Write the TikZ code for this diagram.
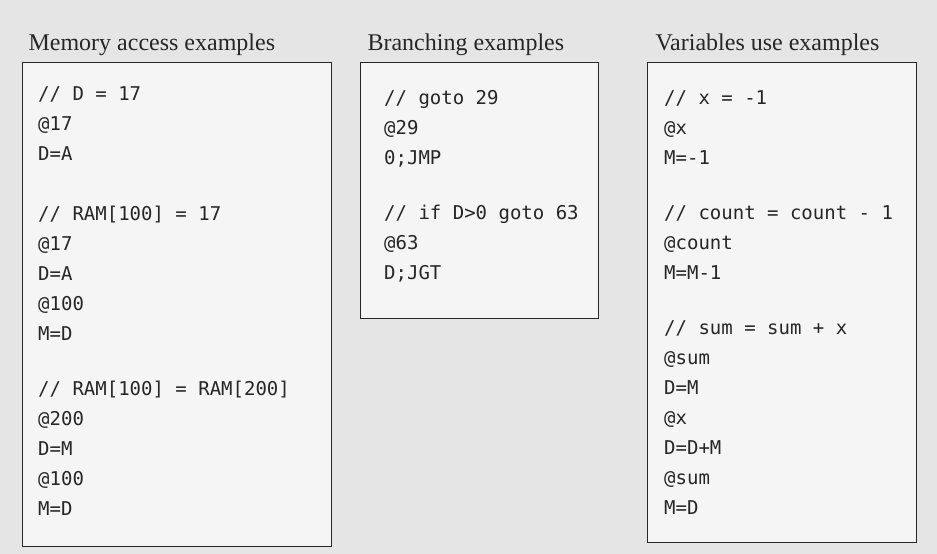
\documentclass[tikz,border=0pt]{standalone}
\usepackage{fontspec}
\setmainfont{Liberation Serif}
\setmonofont{DejaVu Sans Mono}
\begin{document}
\begin{tikzpicture}[x=1pt,y=-1pt,
  box/.style={draw=black!85,line width=1pt,fill=white!92!gray},
  title/.style={anchor=base west,font=\fontsize{24}{28}\selectfont,text=black!85},
  code/.style={anchor=north west,align=left,inner sep=0pt,text=black!85,
    font=\ttfamily\fontsize{19}{30}\selectfont}]
\useasboundingbox (0,0) rectangle (937,554);
\fill[black!10] (0,0) rectangle (937,554);
\node[title] (t1) at (25,50) {Memory access examples};
\node[title] (t2) at (364,50) {Branching examples};
\node[title] (t3) at (652,50) {Variables use examples};
\draw[box] (22,62) rectangle (331,546);
\draw[box] (360,62) rectangle (598,318);
\draw[box] (647,62) rectangle (916,542);
\node[code] (a1) at (38,86) {// D = 17\\@17\\D=A};
\node[code] (a2) at (38,206) {// RAM[100] = 17\\@17\\D=A\\@100\\M=D};
\node[code] (a3) at (38,381) {// RAM[100] = RAM[200]\\@200\\D=M\\@100\\M=D};
\node[code] (b1) at (384,90) {// goto 29\\@29\\0;JMP};
\node[code] (b2) at (384,205) {// if D>0 goto 63\\@63\\D;JGT};
\node[code] (c1) at (664,90) {// x = -1\\@x\\M=-1};
\node[code] (c2) at (664,205) {// count = count - 1\\@count\\M=M-1};
\node[code] (c3) at (664,320) {// sum = sum + x\\@sum\\D=M\\@x\\D=D+M\\@sum\\M=D};
\end{tikzpicture}
\end{document}
